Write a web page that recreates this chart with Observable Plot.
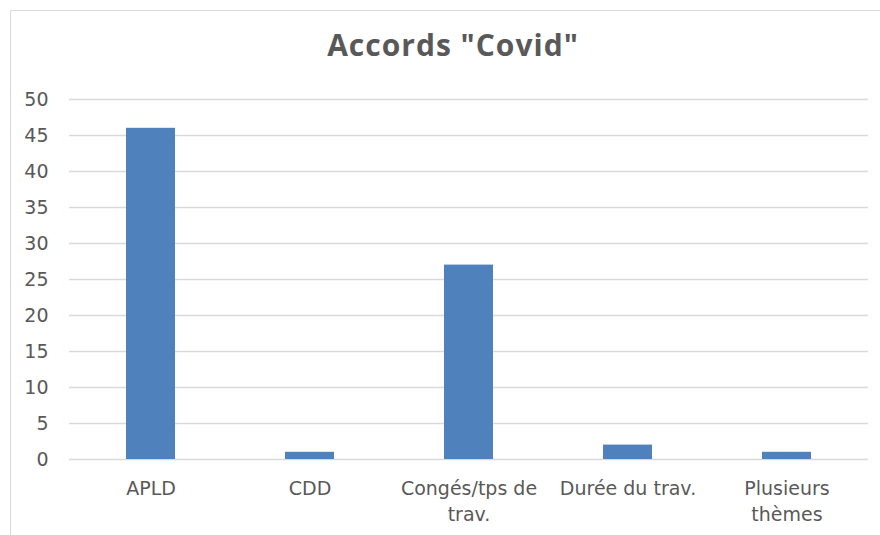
<!DOCTYPE html>
<html>
<head>
<meta charset="utf-8">
<script src="https://cdn.jsdelivr.net/npm/d3@7"></script>
<script src="https://cdn.jsdelivr.net/npm/@observablehq/plot@0.6"></script>
<style>
  html, body { margin: 0; padding: 0; background: #fff; overflow: hidden; }
  #frame {
    position: absolute; left: 10px; top: 10px; width: 880px; height: 540px;
    border-left: 1.5px solid #d9d9d9; border-top: 1.5px solid #d9d9d9;
    box-sizing: border-box;
  }
  #title {
    position: absolute; left: 0; top: 0; width: 884px; height: 70px;
    text-align: center; font-family: "Open Sans", sans-serif; font-weight: bold;
    font-size: 30px; line-height: 67px; letter-spacing: 1px; color: #595959;
  }
  #chart { position: absolute; left: 0; top: 70px; }
</style>
</head>
<body>
<div id="frame">
  <div id="title">Accords "Covid"</div>
  <div id="chart"></div>
</div>
<script>
const categories = ["APLD", "CDD", "Congés/tps de trav.", "Durée du trav.", "Plusieurs thèmes"];
const values = [46, 1, 27, 2, 1];
const categoryLabels = ["APLD", "CDD", "Congés/tps de\ntrav.", "Durée du trav.", "Plusieurs\nthèmes"];
const yTicks = [0, 5, 10, 15, 20, 25, 30, 35, 40, 45, 50];

const data = categories.map((c, i) => ({category: c, value: values[i]}));
const labelOf = new Map(categories.map((c, i) => [c, categoryLabels[i]]));

const chart = Plot.plot({
  width: 869,
  height: 465,
  marginTop: 18,
  marginBottom: 87,
  marginLeft: 58,
  marginRight: 12,
  style: {fontFamily: "DejaVu Sans, sans-serif", fontSize: "19px", color: "#595959", background: "transparent"},
  x: {domain: categories, paddingInner: 0.69, paddingOuter: 0.345, align: 0.5},
  y: {domain: [0, 50]},
  marks: [
    Plot.gridY(yTicks, {stroke: "#d9d9d9", strokeOpacity: 1, strokeWidth: 1.5}),
    Plot.barY(data, {x: "category", y: "value", fill: "#4f81bd"}),
    Plot.axisY(yTicks, {tickSize: 0, tickPadding: 21, fill: "#595959", fontSize: 19, label: null}),
    Plot.axisX({tickSize: 0, tickPadding: 17, fill: "#595959", fontSize: 19, label: null, lineHeight: 1.37,
      tickFormat: d => labelOf.get(d)})
  ]
});
document.getElementById("chart").appendChild(chart);
</script>
</body>
</html>
